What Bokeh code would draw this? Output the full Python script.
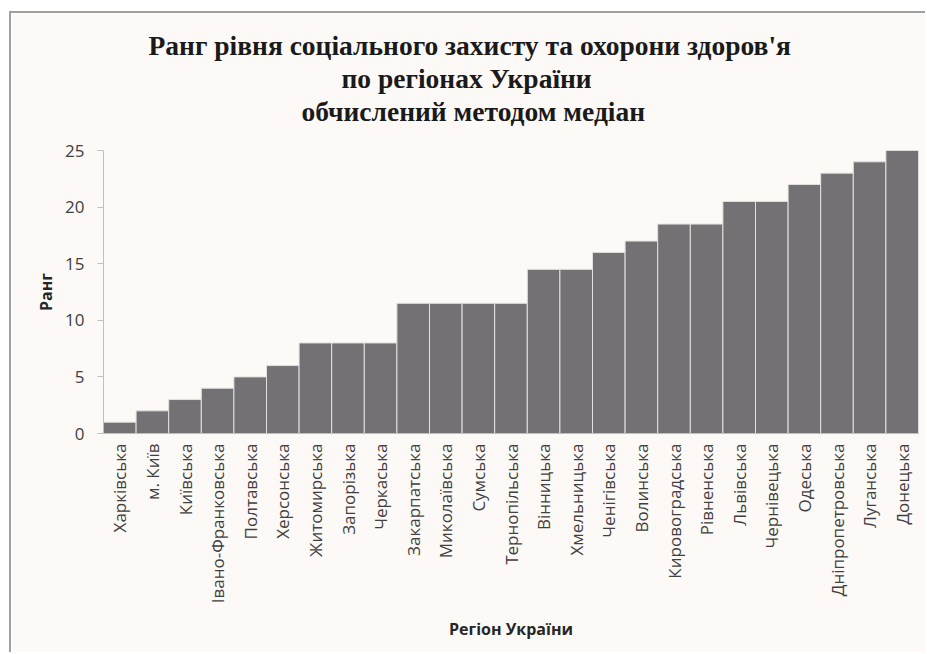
from math import pi
from bokeh.plotting import figure
from bokeh.models import (Title, FixedTicker, Range1d, FactorRange,
                          CategoricalAxis)
from bokeh.embed import file_html
from bokeh.resources import INLINE

regions = ["Харківська", "м. Київ", "Київська", "Івано-Франковська", "Полтавська",
           "Херсонська", "Житомирська", "Запорізька", "Черкаська", "Закарпатська",
           "Миколаївська", "Сумська", "Тернопільська", "Вінницька", "Хмельницька",
           "Ченігівська", "Волинська", "Кировоградська", "Рівненська", "Львівська",
           "Чернівецька", "Одеська", "Дніпропетровська", "Луганська", "Донецька"]
ranks = [1, 2, 3, 4, 5, 6, 8, 8, 8, 11.5, 11.5, 11.5, 11.5, 14.5, 14.5,
         16, 17, 18.5, 18.5, 20.5, 20.5, 22, 23, 24, 25]
y_ticks = [0, 5, 10, 15, 20, 25]
title_lines = ["Ранг рівня соціального захисту та  охорони здоров'я",
               "по регіонах України",
               "обчислений методом медіан"]
x_title = "Регіон України"
y_title = "Ранг"

BG = "#FDF9F6"

p = figure(x_range=FactorRange(factors=regions, range_padding=0),
           y_range=Range1d(0, 25),
           width=916, height=641,
           output_backend="svg", toolbar_location=None,
           min_border_left=92, min_border_right=9,
           min_border_top=137, min_border_bottom=221,
           background_fill_color=BG, border_fill_color=BG,
           outline_line_color=None,
           margin=(11, 0, 0, 9),
           styles={"border-top": "2px solid #A0A0A0",
                   "border-left": "2px solid #A0A0A0"})

p.vbar(x=regions, top=ranks, width=1.0, fill_color="#747174",
       line_color="#E4E0E0", line_width=1)

p.xgrid.visible = False
p.ygrid.visible = False

p.yaxis.ticker = FixedTicker(ticks=y_ticks)
p.yaxis.minor_tick_line_color = None
p.yaxis.major_tick_out = 6
p.yaxis.major_tick_in = 0
p.yaxis.axis_line_color = "#BFBFBF"
p.yaxis.major_tick_line_color = "#BFBFBF"
p.yaxis.major_label_text_font = "Open Sans"
p.yaxis.major_label_text_font_size = "17px"
p.yaxis.major_label_text_color = "#404040"
p.yaxis.major_label_standoff = 13
p.yaxis.axis_label = y_title
p.yaxis.axis_label_text_font = "Open Sans"
p.yaxis.axis_label_text_font_style = "bold"
p.yaxis.axis_label_text_font_size = "16px"
p.yaxis.axis_label_text_color = "#262626"
p.yaxis.axis_label_standoff = 5

p.xaxis.major_tick_out = 0
p.xaxis.major_tick_in = 0
p.xaxis.axis_line_color = "#BFBFBF"
p.xaxis.major_label_orientation = pi / 2
p.xaxis.major_label_text_font = "Open Sans"
p.xaxis.major_label_text_font_size = "17px"
p.xaxis.major_label_text_color = "#404040"
p.xaxis.major_label_standoff = 10
p.xaxis.axis_label = x_title
p.xaxis.axis_label_text_font = "Open Sans"
p.xaxis.axis_label_text_font_style = "bold"
p.xaxis.axis_label_text_font_size = "16px"
p.xaxis.axis_label_text_color = "#262626"
p.xaxis.axis_label_standoff = 12

# invisible spacer (no line, no ticks, no drawn labels) between plot and title
p.extra_x_ranges = {"spacer": FactorRange(factors=["s"])}
spacer = CategoricalAxis(x_range_name="spacer",
                         axis_line_color=None, major_tick_line_color=None,
                         minor_tick_line_color=None, major_tick_out=24,
                         major_tick_in=0, major_label_standoff=0,
                         major_label_text_color=None,
                         major_label_text_font_size="1px")
p.add_layout(spacer, "above")

# title lines, left-aligned with offsets so that they centre on the chart
title_offsets = [45, 238, 198]
for line, off in zip(reversed(title_lines), reversed(title_offsets)):
    p.add_layout(Title(text=line, align="left", offset=off, standoff=0,
                       text_font="Liberation Serif", text_font_style="bold",
                       text_font_size="27.5px", text_color="#1A1A1A"), "above")

open("out.html", "w").write(file_html(p, INLINE))
